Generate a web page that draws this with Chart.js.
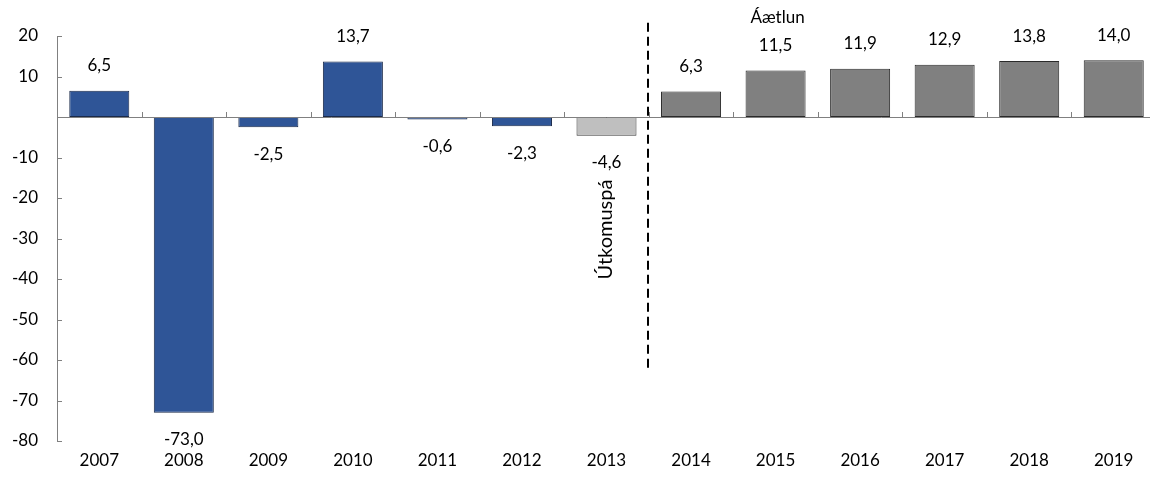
<!DOCTYPE html>
<html>
<head>
<meta charset="utf-8">
<script src="https://cdn.jsdelivr.net/npm/chart.js@4.4.1/dist/chart.umd.min.js"></script>
<style>
  html, body { margin:0; padding:0; background:#fff; overflow:hidden; }
  #wrap { position:absolute; left:0; top:0; width:1156px; height:481px; }
</style>
</head>
<body>
<div id="wrap"><canvas id="chart"></canvas></div>
<script>
// data
const years = ['2007','2008','2009','2010','2011','2012','2013','2014','2015','2016','2017','2018','2019'];
const values = [6.5, -73.0, -2.5, 13.7, -0.6, -2.3, -4.6, 6.3, 11.5, 11.9, 12.9, 13.8, 14.0];
const yTicks = [20, 10, 0, -10, -20, -30, -40, -50, -60, -70, -80];
const forecastLabel = 'Útkomuspá';
const planLabel = 'Áætlun';

const FONT = 'Lato, "Open Sans", sans-serif';

// colours: actuals blue, 2013 forecast light grey, plan grey
const fill = values.map((v, i) => i < 6 ? '#2F5597' : (i === 6 ? '#BFBFBF' : '#808080'));
const edge = values.map((v, i) => i < 6 ? '#1A2A4A' : (i === 6 ? '#3A3A3A' : '#2A2A2A'));

const fmt = v => v.toFixed(1).replace('.', ',');

// labels, zero line, inner ticks, dashed divider
const extras = {
  id: 'extras',
  afterDatasetsDraw(chart) {
    const ctx = chart.ctx;
    const x = chart.scales.x, y = chart.scales.y;
    const area = chart.chartArea;
    const y0 = y.getPixelForValue(0);
    ctx.save();

    // zero line + category ticks
    ctx.strokeStyle = '#808080';
    ctx.lineWidth = 1;
    ctx.beginPath();
    ctx.moveTo(area.left, Math.round(y0) + 0.5);
    ctx.lineTo(area.right, Math.round(y0) + 0.5);
    for (let i = 0; i < years.length; i++) {
      const px = Math.round(x.getPixelForValue(i + 0.5)) + 0.5;
      ctx.moveTo(px, y0);
      ctx.lineTo(px, y0 - 5);
    }
    // y axis inner ticks
    yTicks.forEach(t => {
      const py = Math.round(y.getPixelForValue(t)) + 0.5;
      ctx.moveTo(area.left, py);
      ctx.lineTo(area.left + 5, py);
    });
    ctx.stroke();

    // value labels
    ctx.fillStyle = '#000';
    ctx.font = '17px ' + FONT;
    ctx.textAlign = 'center';
    ctx.textBaseline = 'middle';
    const meta = chart.getDatasetMeta(0);
    meta.data.forEach((bar, i) => {
      const v = values[i];
      const py = v >= 0 ? bar.y - 25 : bar.y + 27;
      ctx.fillText(fmt(v), bar.x, py);
    });

    // dashed divider between 2013 and 2014
    const dx = Math.round(x.getPixelForValue(6.5)) - 1;
    ctx.strokeStyle = '#000';
    ctx.lineWidth = 2;
    ctx.setLineDash([9, 5]);
    ctx.beginPath();
    ctx.moveTo(dx, y.getPixelForValue(23.3));
    ctx.lineTo(dx, y.getPixelForValue(-62));
    ctx.stroke();
    ctx.setLineDash([]);

    // annotations
    ctx.fillText(planLabel, x.getPixelForValue(8) + 2, y.getPixelForValue(24.5));
    ctx.save();
    ctx.translate(x.getPixelForValue(6) - 1, y.getPixelForValue(-27.8));
    ctx.rotate(-Math.PI / 2);
    ctx.font = '20px ' + FONT;
    ctx.fillText(forecastLabel, 0, 0);
    ctx.restore();

    ctx.restore();
  }
};

new Chart(document.getElementById('chart'), {
  type: 'bar',
  data: {
    labels: years,
    datasets: [{
      data: values,
      backgroundColor: fill,
      borderColor: edge,
      borderWidth: 1,
      borderSkipped: false,
      barPercentage: 0.71,
      categoryPercentage: 1.0
    }]
  },
  options: {
    responsive: true,
    maintainAspectRatio: false,
    animation: false,
    layout: { padding: { top: 36, right: 0, left: 0, bottom: 0 } },
    plugins: {
      legend: { display: false },
      tooltip: { enabled: false }
    },
    scales: {
      x: {
        grid: { display: false, drawTicks: false },
        border: { display: false },
        ticks: { color: '#000', font: { size: 17, family: FONT }, padding: 9, maxRotation: 0, autoSkip: false },
        afterFit: s => { s.height = 40; }
      },
      y: {
        min: -80,
        max: 20,
        grid: { display: false, drawTicks: false },
        border: { display: true, color: '#808080', width: 1 },
        afterBuildTicks: s => { s.ticks = yTicks.map(v => ({ value: v })); },
        ticks: {
          color: '#000',
          font: { size: 17, family: FONT },
          padding: 19,
          callback: v => v === 0 ? '' : String(v)
        },
        afterFit: s => { s.width = 57; }
      }
    }
  },
  plugins: [extras]
});
</script>
</body>
</html>
